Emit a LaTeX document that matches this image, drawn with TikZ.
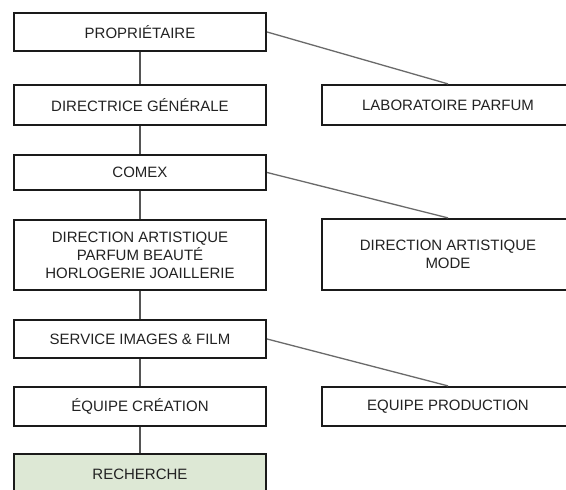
\documentclass[tikz,border=0pt]{standalone}
\usepackage{fontspec}
\setmainfont{Liberation Sans}
\definecolor{txt}{HTML}{222222}
\definecolor{edge}{HTML}{1A1A1A}
\definecolor{conn}{HTML}{555555}
\definecolor{diag}{HTML}{6A6A6A}
\definecolor{greenfill}{HTML}{DDE8D5}
\begin{document}
\begin{tikzpicture}[x=1pt,y=-1pt,
  box/.style={draw=edge, line width=2.2pt, fill=white, text=txt,
    minimum width=252pt, align=center, inner sep=0pt,
    font=\fontsize{15}{18}\selectfont},
  vline/.style={draw=conn, line width=2pt},
  dline/.style={draw=diag, line width=1.3pt}]
\useasboundingbox (0,0) rectangle (566,490);
\clip (0,0) rectangle (566,490);
\fill[white] (0,0) rectangle (566,490);
% left column
\node[box, minimum height=38pt] (prop) at (140,32) {PROPRIÉTAIRE};
\node[box, minimum height=40pt] (dg) at (140,105) {DIRECTRICE GÉNÉRALE};
\node[box, minimum height=35pt] (comex) at (140,172.5) {COMEX};
\node[box, minimum height=70pt] (dapb) at (140,255) {DIRECTION ARTISTIQUE\\PARFUM BEAUTÉ\\HORLOGERIE JOAILLERIE};
\node[box, minimum height=38pt] (sif) at (140,339) {SERVICE IMAGES \& FILM};
\node[box, minimum height=39pt] (ec) at (140,406.5) {ÉQUIPE CRÉATION};
\node[box, minimum height=40pt, fill=greenfill] (rech) at (140,474) {RECHERCHE};
% right column
\node[box, minimum height=40pt] (lab) at (448,105) {LABORATOIRE PARFUM};
\node[box, minimum height=71pt] (dam) at (448,254.5) {DIRECTION ARTISTIQUE\\MODE};
\node[box, minimum height=39pt] (ep) at (448,406.5) {EQUIPE PRODUCTION};
% connectors
\draw[vline] (prop) -- (dg);
\draw[vline] (dg) -- (comex);
\draw[vline] (comex) -- (dapb);
\draw[vline] (dapb) -- (sif);
\draw[vline] (sif) -- (ec);
\draw[vline] (ec) -- (rech);
\draw[dline] (prop.east) -- (lab.north);
\draw[dline] (comex.east) -- (dam.north);
\draw[dline] (sif.east) -- (ep.north);
\end{tikzpicture}
\end{document}
